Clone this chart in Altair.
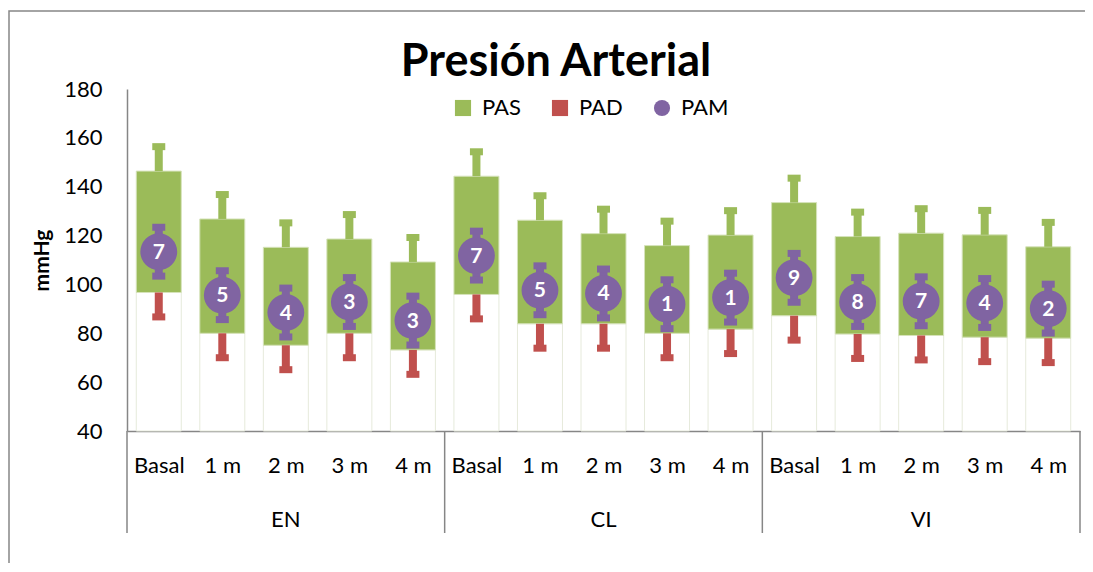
import altair as alt
import pandas as pd

# ---- data ----
groups = ["EN", "CL", "VI"]
group_center = [2, 7, 12]
group_bounds = [-0.5, 4.5, 9.5, 14.5]
times = ["Basal", "1 m", "2 m", "3 m", "4 m"]
idx = list(range(15))
pas = [146.4, 126.8, 115.2, 118.6, 109.2,
       144.3, 126.3, 120.8, 115.9, 120.2,
       133.5, 119.6, 121.0, 120.3, 115.4]
pad = [96.7, 80.0, 75.1, 80.0, 73.2,
       95.9, 83.9, 83.9, 80.0, 81.7,
       87.2, 79.7, 79.1, 78.4, 78.0]
pam = [113.4, 95.6, 88.5, 92.8, 85.2,
       111.8, 97.6, 96.3, 91.9, 94.6,
       102.7, 92.8, 93.1, 92.4, 90.1]
pas_err = [10, 10, 10, 10, 10, 10, 10, 10, 10, 10, 10, 10, 10, 10, 10]
pad_err = [10, 10, 10, 10, 10, 10, 10, 10, 10, 10, 10, 10, 10, 10, 10]
pam_err = [10, 10, 10, 10, 10, 10, 10, 10, 10, 10, 10, 10, 10, 10, 10]
n_lab = [7, 5, 4, 3, 3, 7, 5, 4, 1, 1, 9, 8, 7, 4, 2]
series = ["PAS", "PAD", "PAM"]

GREEN, RED, PURPLE, GREY = "#9BBB59", "#C0504D", "#8064A2", "#868686"
FONT = "Lato"
W, H = 953, 342

df = pd.DataFrame({"idx": idx, "pas": pas, "pad": pad, "pam": pam,
                   "pas_err": pas_err, "pad_err": pad_err, "pam_err": pam_err,
                   "n": [str(v) for v in n_lab]})

label_expr = "[" + ",".join("'%s'" % t for t in times) + "][datum.value % 5]"

xaxis = alt.Axis(values=idx, labelExpr=label_expr, title=None, ticks=False, tickSize=0,
                 grid=False, domainColor=GREY, domainWidth=1.5, labelFontSize=22,
                 labelFont=FONT, labelColor="black", labelPadding=34,
                 labelBaseline="middle", labelFlush=False, labelOverlap=False)
xscale = alt.Scale(domain=[-0.5, 14.5], nice=False, zero=False, padding=0)
yaxis = alt.Axis(values=[40, 60, 80, 100, 120, 140, 160, 180], title="mmHg",
                 titleFontSize=21, titleFontWeight="bold", titleFont=FONT,
                 titleX=-79, titleY=H / 2, titleAngle=-90, titleBaseline="alphabetic",
                 titleAlign="center", titleColor="black",
                 labelFontSize=22, labelFont=FONT, labelColor="black", labelPadding=25,
                 ticks=False, tickSize=0, grid=False, domainColor=GREY, domainWidth=1.5)
yscale = alt.Scale(domain=[40, 180], nice=False, zero=False, padding=0)


def X(f="idx"):
    return alt.X(f + ":Q", scale=xscale, axis=xaxis)


def Y(f):
    return alt.Y(f + ":Q", scale=yscale, axis=yaxis)


base = alt.Chart(df).transform_calculate(
    pas_top="datum.pas + datum.pas_err",
    pad_bot="datum.pad - datum.pad_err",
    pam_top="datum.pam + datum.pam_err",
    pam_bot="datum.pam - datum.pam_err",
)

base_bar = base.mark_bar(size=45, fill="white", stroke="#e6eadb", strokeWidth=1).encode(
    x=X(), y=Y("pad"), y2=alt.datum(40))
pas_bar = base.mark_bar(size=45, fill=GREEN, stroke="#d6e3bb", strokeWidth=1).encode(
    x=X(), y=Y("pad"), y2="pas:Q")

pas_rule = base.mark_rule(strokeWidth=8, color=GREEN).encode(x=X(), y=Y("pas"), y2="pas_top:Q")
pas_cap = base.mark_tick(orient="horizontal", size=13, thickness=7, color=GREEN, opacity=1).encode(
    x=X(), y=Y("pas_top"))
pad_rule = base.mark_rule(strokeWidth=8, color=RED).encode(x=X(), y=Y("pad_bot"), y2="pad:Q")
pad_cap = base.mark_tick(orient="horizontal", size=13, thickness=7, color=RED, opacity=1).encode(
    x=X(), y=Y("pad_bot"))
pam_rule = base.mark_rule(strokeWidth=8, color=PURPLE).encode(x=X(), y=Y("pam_bot"), y2="pam_top:Q")
pam_cap1 = base.mark_tick(orient="horizontal", size=13, thickness=7, color=PURPLE, opacity=1).encode(
    x=X(), y=Y("pam_top"))
pam_cap2 = base.mark_tick(orient="horizontal", size=13, thickness=7, color=PURPLE, opacity=1).encode(
    x=X(), y=Y("pam_bot"))
pam_pt = base.mark_circle(size=1360, color=PURPLE, opacity=1).encode(x=X(), y=Y("pam"))
pam_txt = base.mark_text(color="white", fontWeight="bold", fontSize=21, font=FONT,
                         baseline="middle", dy=1).encode(x=X(), y=Y("pam"), text="n:N")

sep_df = pd.DataFrame({"b": group_bounds})
seps = alt.Chart(sep_df).mark_rule(color=GREY, strokeWidth=1.5).encode(
    x=X("b"), y=alt.value(H), y2=alt.value(H + 102))

grp_df = pd.DataFrame({"g": groups, "c": group_center})
grp_txt = alt.Chart(grp_df).mark_text(fontSize=22, font=FONT, color="black", baseline="middle").encode(
    x=X("c"), y=alt.value(431), text="g:N")

title_df = pd.DataFrame({"t": ["Presión Arterial"]})
title_txt = alt.Chart(title_df).mark_text(fontSize=45, fontWeight="bold", font=FONT, color="black",
                                          baseline="middle").encode(
    x=alt.value(429), y=alt.value(-27), text="t:N")

border = alt.Chart(title_df).mark_rect(filled=False, stroke=GREY, strokeWidth=1.5).encode(
    x=alt.value(-118), x2=alt.value(W + 60), y=alt.value(-78), y2=alt.value(H + 250))

leg_df = pd.DataFrame({"serie": series})
legend = alt.Legend(orient="none", legendX=325, legendY=8, direction="horizontal", title=None,
                    symbolSize=260, symbolOpacity=1, symbolStrokeWidth=0,
                    labelFontSize=22, labelFont=FONT, labelColor="black",
                    columnPadding=28, labelOffset=8, padding=0)
leg = alt.Chart(leg_df).mark_point(filled=True, opacity=0).encode(
    x=alt.datum(7), y=alt.datum(150),
    color=alt.Color("serie:N", scale=alt.Scale(domain=series, range=[GREEN, RED, PURPLE]), legend=legend),
    shape=alt.Shape("serie:N", scale=alt.Scale(domain=series, range=["square", "square", "circle"]),
                    legend=legend))

chart = alt.layer(
    border, base_bar, pas_bar, pas_rule, pas_cap, pad_rule, pad_cap,
    pam_rule, pam_cap1, pam_cap2, pam_pt, pam_txt, seps, grp_txt, title_txt, leg
).properties(
    width=W, height=H,
    background="white",
    padding={"left": 119, "top": 81, "right": 5, "bottom": 132},
    autosize=alt.AutoSizeParams(type="none"),
).configure_view(stroke="transparent", strokeWidth=0)

chart.save("out.html", embed_options={"renderer": "svg", "actions": False})
